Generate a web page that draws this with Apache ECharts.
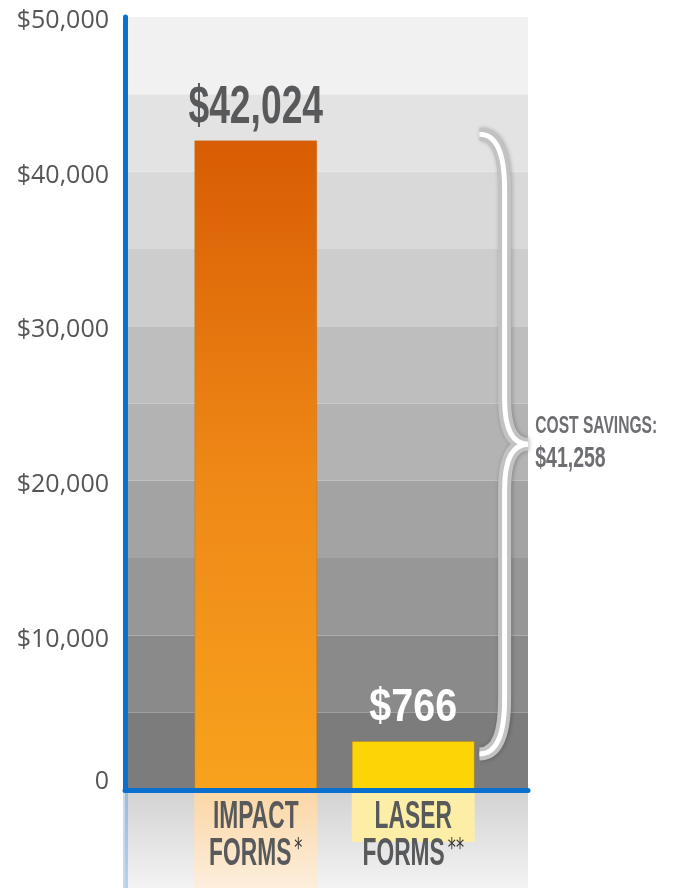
<!DOCTYPE html>
<html>
<head>
<meta charset="utf-8">
<title>Impact vs laser forms cost</title>
<script src="https://cdn.jsdelivr.net/npm/echarts@6/dist/echarts.min.js"></script>
<style>
  html, body { margin: 0; padding: 0; background: #fff; }
  #chart { width: 693px; height: 888px; }
</style>
</head>
<body>
<div id="chart"></div>
<script>
// ----- Data -----
const categories = ['IMPACT\nFORMS', 'LASER\nFORMS'];
const footnotes = ['*', '**'];
const costs = [42024, 766];
const savingsLabel = 'COST SAVINGS:';

// band shades, bottom band first (every 5,000)
const bandColors = [
  '#7c7c7c', '#8a8a8a', '#979797', '#a3a3a3', '#b3b3b3',
  '#bebebe', '#cdcdcd', '#d9d9d9', '#e3e3e3', '#f1f1f1'
];

// no condensed display font offline -> squeeze a bold sans horizontally
const BOLD = '"Liberation Sans", Arial, sans-serif';
const TEXT_GRAY = '#58595b';
const BLUE = '#0a70d0';
const MIN_BAR_H = 49;   // the small bar is drawn taller than scale, as in the original

const money = v => '$' + Number(v).toLocaleString('en-US');

const chart = echarts.init(document.getElementById('chart'));

// brace between the two bar tops + savings text
function renderBrace(params, api) {
  const cx = api.coord([api.value(0), 0])[0];
  const bw = api.size([1, 0])[0];
  const y0 = api.coord([0, 0])[1];
  const yT = api.coord([0, api.value(1)])[1] - 6;
  const yB = Math.min(api.coord([0, api.value(2)])[1], y0 - MIN_BAR_H) + 13;
  const yM = (yT + yB) / 2;
  const xL = cx + 0.42 * bw;
  const xV = cx + 0.58 * bw;
  const xC = cx + 0.73 * bw;
  const d = `M${xL},${yT} Q${xV},${yT} ${xV},${yT + 55} L${xV},${yM - 45} ` +
            `Q${xV},${yM} ${xC},${yM} Q${xV},${yM} ${xV},${yM + 45} ` +
            `L${xV},${yB - 55} Q${xV},${yB} ${xL},${yB}`;
  const saved = api.value(1) - api.value(2);
  return {
    type: 'group',
    children: [
      {
        type: 'path',
        shape: { pathData: d },
        style: {
          fill: null, stroke: '#c2c2c2', lineWidth: 13, lineJoin: 'miter',
          shadowBlur: 4, shadowColor: 'rgba(0,0,0,0.25)', shadowOffsetX: 1
        }
      },
      {
        type: 'path',
        shape: { pathData: d },
        style: { fill: null, stroke: '#ffffff', lineWidth: 5, lineJoin: 'miter' }
      },
      {
        type: 'text',
        x: xC + 7,
        y: yM - 1,
        scaleX: 0.65,
        style: {
          text: `{t|${savingsLabel}}\n{n|${money(saved)}}`,
          verticalAlign: 'middle',
          align: 'left',
          rich: {
            t: { fill: '#6d6e71', fontFamily: BOLD, fontWeight: 'bold', fontSize: 24, lineHeight: 32 },
            n: { fill: '#6d6e71', fontFamily: BOLD, fontWeight: 'bold', fontSize: 30, lineHeight: 34 }
          }
        }
      }
    ]
  };
}

// value above each bar, category name under the axis
function renderLabels(params, api) {
  const i = api.value(0);
  const v = api.value(1);
  const x = api.coord([i, 0])[0];
  const y0 = api.coord([0, 0])[1];
  const yTop = Math.min(api.coord([i, v])[1], y0 - MIN_BAR_H);
  const [a, b] = categories[i].split('\n');
  const big = i === 0;
  return {
    type: 'group',
    children: [
      {
        type: 'text',
        x: x,
        y: yTop - (big ? 5 : 9),
        scaleX: big ? 0.69 : 0.84,
        style: {
          text: money(v),
          fill: big ? TEXT_GRAY : '#ffffff',
          fontFamily: BOLD,
          fontWeight: 'bold',
          fontSize: big ? 54 : 47,
          align: 'center',
          verticalAlign: 'bottom'
        }
      },
      {
        type: 'text',
        x: x,
        y: y0 + 9,
        scaleX: 0.6,
        style: {
          text: `{w|${a}}\n{w|${b}}{s|${footnotes[i]}}`,
          align: 'center',
          verticalAlign: 'top',
          rich: {
            w: { fontFamily: BOLD, fontWeight: 'bold', fontSize: 38, fill: '#58595b', lineHeight: 37 },
            s: { fontFamily: '"DejaVu Sans", sans-serif', fontSize: 27, fill: '#333333', lineHeight: 37,
                 verticalAlign: 'top', padding: [0, 0, 0, 5] }
          }
        }
      }
    ]
  };
}

chart.setOption({
  backgroundColor: '#ffffff',
  animation: false,
  grid: [
    { left: 125, right: 165, top: 17, bottom: 98 },                 // plot background
    { left: 177, width: 315, top: 17, bottom: 98 },                 // bars
    { left: 125, right: 165, top: 793, bottom: 0, show: true, borderWidth: 0,
      backgroundColor: new echarts.graphic.LinearGradient(0, 0, 0, 1, [
        { offset: 0, color: '#d3d3d3' }, { offset: 1, color: '#f3f3f3' }
      ]) },                                                          // reflection floor
    { left: 177, width: 315, top: 793, bottom: 0 }                  // reflected bars
  ],
  xAxis: [
    {
      gridIndex: 0, type: 'value', min: 0, max: 1, z: 5,
      axisLine: { show: true, lineStyle: { color: BLUE, width: 5 } },
      axisTick: { show: false }, axisLabel: { show: false }, splitLine: { show: false }
    },
    {
      gridIndex: 1, type: 'category', data: categories,
      axisLine: { show: false }, axisTick: { show: false }, axisLabel: { show: false }
    },
    { gridIndex: 2, type: 'value', min: 0, max: 1, show: false },
    { gridIndex: 3, type: 'category', data: categories, show: false }
  ],
  yAxis: [
    {
      gridIndex: 0, type: 'value', min: 0, max: 50000, interval: 5000,
      axisLine: { show: true, lineStyle: { color: BLUE, width: 5 } },
      axisTick: { show: false },
      splitLine: { show: false },
      splitArea: { show: true, areaStyle: { color: bandColors } },
      axisLabel: {
        margin: 16,
        formatter: v => (v % 10000 ? '' : v === 0 ? '{z|0}' : '{a|' + money(v) + '}'),
        rich: {
          a: { color: '#555555', fontFamily: '"Open Sans", sans-serif', fontSize: 25, padding: [8, 0, 0, 0] },
          z: { color: '#555555', fontFamily: '"Open Sans", sans-serif', fontSize: 25, padding: [0, 0, 16, 0] }
        }
      }
    },
    { gridIndex: 1, type: 'value', min: 0, max: 50000, show: false },
    {
      gridIndex: 2, type: 'value', min: 0, max: 1,
      axisLine: { show: true, lineStyle: { color: 'rgba(10,112,208,0.25)', width: 5 } },
      axisTick: { show: false }, axisLabel: { show: false }, splitLine: { show: false }
    },
    { gridIndex: 3, type: 'value', min: 0, max: 6145, inverse: true, show: false }
  ],
  series: [
    {
      name: 'Cost',
      type: 'bar',
      xAxisIndex: 1,
      yAxisIndex: 1,
      barWidth: 123,
      barMinHeight: MIN_BAR_H,
      data: costs,
      itemStyle: {
        borderWidth: 1,
        borderColor: 'rgba(190,110,0,0.35)',
        color: p => p.dataIndex === 0
          ? new echarts.graphic.LinearGradient(0, 0, 0, 1, [
              { offset: 0, color: '#d85c03' },
              { offset: 0.5, color: '#ee8716' },
              { offset: 1, color: '#f8a21e' }
            ])
          : '#fdd507'
      },
      z: 3
    },
    {
      name: 'Reflection',
      type: 'bar',
      xAxisIndex: 3,
      yAxisIndex: 3,
      barWidth: 123,
      barMinHeight: MIN_BAR_H,
      data: costs,
      silent: true,
      itemStyle: {
        color: p => p.dataIndex === 0
          ? new echarts.graphic.LinearGradient(0, 0, 0, 1, [
              { offset: 0, color: '#fbd7a6' },
              { offset: 1, color: '#fdeedc' }
            ])
          : '#fdeea7'
      }
    },
    {
      name: 'Labels',
      type: 'custom',
      xAxisIndex: 1,
      yAxisIndex: 1,
      renderItem: renderLabels,
      data: costs.map((v, i) => [i, v]),
      silent: true,
      z: 6
    },
    {
      name: 'Savings',
      type: 'custom',
      xAxisIndex: 1,
      yAxisIndex: 1,
      renderItem: renderBrace,
      data: [[1, costs[0], costs[1]]],
      silent: true,
      z: 4
    }
  ]
});

window.addEventListener('resize', () => chart.resize());
</script>
</body>
</html>
